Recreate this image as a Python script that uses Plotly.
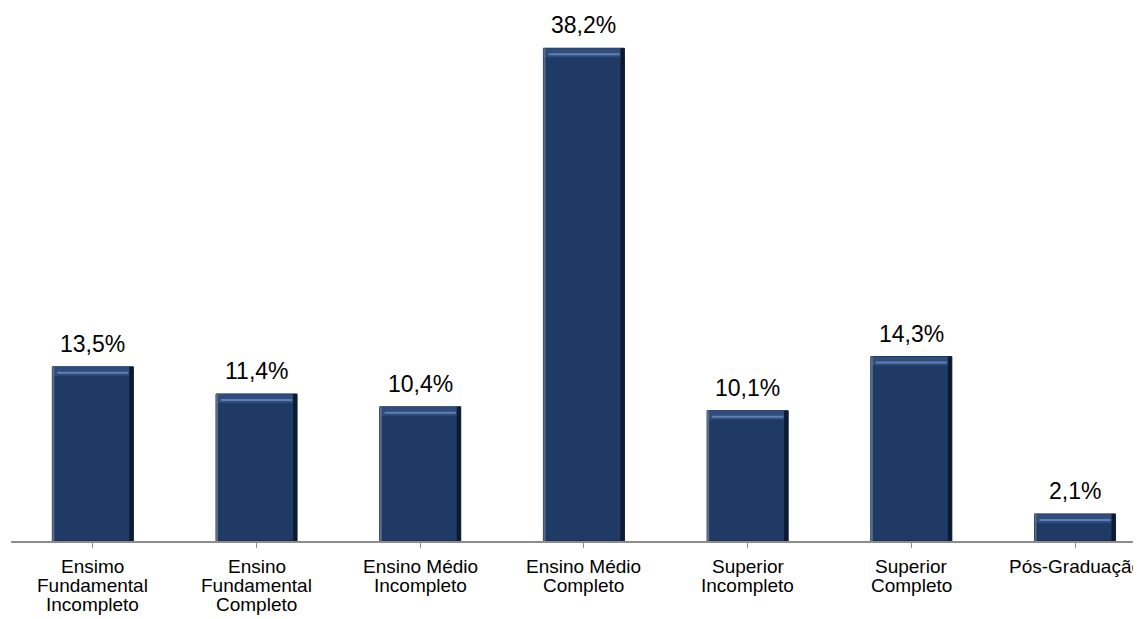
import plotly.graph_objects as go

categories = [
    "Ensimo<br>Fundamental<br>Incompleto",
    "Ensino<br>Fundamental<br>Completo",
    "Ensino Médio<br>Incompleto",
    "Ensino Médio<br>Completo",
    "Superior<br>Incompleto",
    "Superior<br>Completo",
    "Pós-Graduação",
]
values = [13.5, 11.4, 10.4, 38.2, 10.1, 14.3, 2.1]
labels = ["13,5%", "11,4%", "10,4%", "38,2%", "10,1%", "14,3%", "2,1%"]

BAR_COLOR = "#1F3A64"
BAR_WIDTH = 0.495
FONT = "Liberation Sans, Arial, sans-serif"

fig = go.Figure()
fig.add_trace(go.Bar(
    x=list(range(len(categories))),
    y=values,
    width=BAR_WIDTH,
    marker=dict(color=BAR_COLOR, line=dict(color="#14264A", width=1)),
    hoverinfo="skip",
))

shapes = []
annotations = []
for i, v in enumerate(values):
    half = BAR_WIDTH / 2
    # top bevel band
    shapes.append(dict(type="rect", xref="x", yref="y", x0=i - half, x1=i + half,
                       ysizemode="pixel", yanchor=v, y0=-9, y1=0,
                       fillcolor="#2E4D7C", line=dict(width=0), layer="above"))
    shapes.append(dict(type="rect", xref="x", yref="y", x0=i - half + 0.03, x1=i + half - 0.03,
                       ysizemode="pixel", yanchor=v, y0=-5, y1=-7,
                       fillcolor="#5F80B0", line=dict(width=0), layer="above"))
    # right dark edge
    shapes.append(dict(type="rect", xref="x", yref="y", xsizemode="pixel", xanchor=i + half,
                       x0=-4, x1=0, y0=0, y1=v,
                       fillcolor="#0E1A30", line=dict(width=0), layer="above"))
    # left lighter edge
    shapes.append(dict(type="rect", xref="x", yref="y", xsizemode="pixel", xanchor=i - half,
                       x0=0, x1=2, y0=0, y1=v,
                       fillcolor="#5D6E88", line=dict(width=0), layer="above"))
    annotations.append(dict(x=i, y=v, xref="x", yref="y", text=labels[i], showarrow=False,
                            yanchor="bottom", yshift=8,
                            font=dict(family=FONT, size=23, color="#000")))
    for k, line in enumerate(categories[i].split("<br>")):
        annotations.append(dict(x=i, y=0, xref="x", yref="y", text=line, showarrow=False,
                                yanchor="middle", yshift=-(25 + 19 * k),
                                font=dict(family=FONT, size=19, color="#000")))

fig.update_layout(
    width=1133, height=611,
    margin=dict(l=3, r=0, t=17, b=78),
    paper_bgcolor="white", plot_bgcolor="white",
    showlegend=False,
    shapes=shapes,
    annotations=annotations,
    xaxis=dict(
        range=[-0.5, 6.403],
        tickmode="array", tickvals=list(range(len(categories))), ticktext=categories,
        tickson="boundaries", showticklabels=False,
        ticks="outside", ticklen=5, tickcolor="#8C8C8C", tickwidth=1,
        showline=True, linecolor="#8C8C8C", linewidth=2,
        showgrid=False, zeroline=False,
    ),
    yaxis=dict(range=[0, 40], visible=False, showgrid=False, zeroline=False),
)

fig.write_html("out.html")
